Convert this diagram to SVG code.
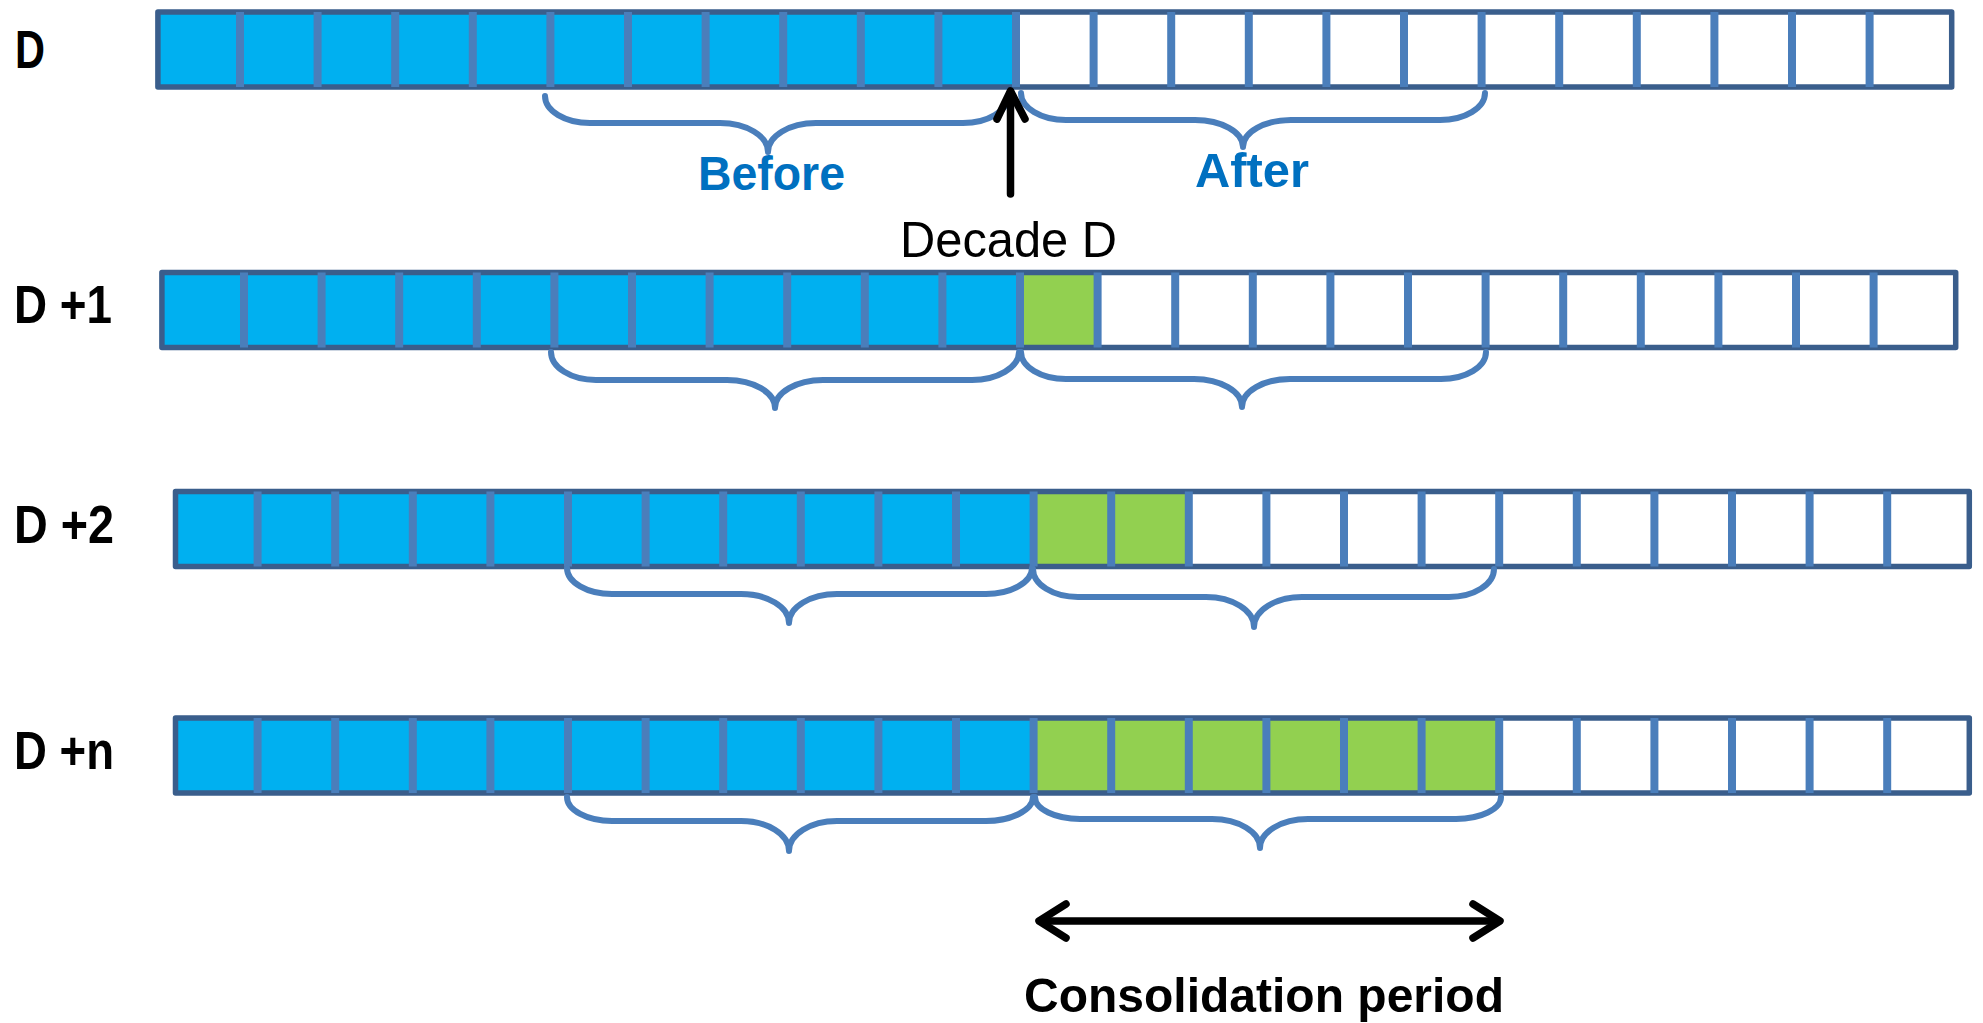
<svg xmlns="http://www.w3.org/2000/svg" xmlns:xlink="http://www.w3.org/1999/xlink" width="1983" height="1023" viewBox="0 0 1983 1023">
  <style>
    .lbl { font-family: "Liberation Sans", Arial, sans-serif; font-weight: bold; font-size: 53px; fill: #000; }
    .ba { font-family: "Liberation Sans", Arial, sans-serif; font-weight: bold; font-size: 49px; fill: #0070c0; }
    .reg { font-family: "Liberation Sans", Arial, sans-serif; font-size: 50px; fill: #000; }
    .cons { font-family: "Liberation Sans", Arial, sans-serif; font-weight: bold; font-size: 49px; fill: #000; }
    .outer { fill: none; stroke: #3a5e8c; stroke-width: 5.5; stroke-linejoin: round; }
    .div { stroke: #4a7ebb; stroke-width: 8; }
    .blue { fill: #00b0f0; }
    .green { fill: #92d050; }
    .brace { fill: none; stroke: #4a7ebb; stroke-width: 6; stroke-linecap: round; stroke-linejoin: round; }
    .arr { fill: none; stroke: #000; stroke-width: 7.5; stroke-linecap: round; stroke-linejoin: round; }
  </style>
  <defs>
    <g id="divs">
      <line class="div" x1="77.6" y1="0" x2="77.6" y2="75"/>
      <line class="div" x1="155.2" y1="0" x2="155.2" y2="75"/>
      <line class="div" x1="232.8" y1="0" x2="232.8" y2="75"/>
      <line class="div" x1="310.4" y1="0" x2="310.4" y2="75"/>
      <line class="div" x1="388" y1="0" x2="388" y2="75"/>
      <line class="div" x1="465.6" y1="0" x2="465.6" y2="75"/>
      <line class="div" x1="543.2" y1="0" x2="543.2" y2="75"/>
      <line class="div" x1="620.8" y1="0" x2="620.8" y2="75"/>
      <line class="div" x1="698.4" y1="0" x2="698.4" y2="75"/>
      <line class="div" x1="776" y1="0" x2="776" y2="75"/>
      <line class="div" x1="853.6" y1="0" x2="853.6" y2="75"/>
      <line class="div" x1="931.2" y1="0" x2="931.2" y2="75"/>
      <line class="div" x1="1008.8" y1="0" x2="1008.8" y2="75"/>
      <line class="div" x1="1086.4" y1="0" x2="1086.4" y2="75"/>
      <line class="div" x1="1164" y1="0" x2="1164" y2="75"/>
      <line class="div" x1="1241.6" y1="0" x2="1241.6" y2="75"/>
      <line class="div" x1="1319.2" y1="0" x2="1319.2" y2="75"/>
      <line class="div" x1="1396.8" y1="0" x2="1396.8" y2="75"/>
      <line class="div" x1="1474.4" y1="0" x2="1474.4" y2="75"/>
      <line class="div" x1="1552" y1="0" x2="1552" y2="75"/>
      <line class="div" x1="1629.6" y1="0" x2="1629.6" y2="75"/>
      <line class="div" x1="1707.2" y1="0" x2="1707.2" y2="75"/>
    </g>
  </defs>

  <rect width="1983" height="1023" fill="#ffffff"/>

  <!-- Row D -->
  <g id="row-D" transform="translate(162.4,12)">
    <rect class="blue" x="-4.5" y="0" width="858.1" height="75"/>
    <rect class="outer" x="-4.5" y="0" width="1793.8" height="75"/>
    <use xlink:href="#divs"/>
  </g>
  <text id="label-D" class="lbl" x="15" y="68" textLength="30" lengthAdjust="spacingAndGlyphs">D</text>

  <!-- Row D+1 -->
  <g id="row-D1" transform="translate(166.4,272.5)">
    <rect class="blue" x="-4.5" y="0" width="858.1" height="75"/>
    <rect class="green" x="853.6" y="0" width="77.6" height="75"/>
    <rect class="outer" x="-4.5" y="0" width="1793.8" height="75"/>
    <use xlink:href="#divs"/>
  </g>
  <text id="label-D1" class="lbl" x="14" y="323" textLength="98" lengthAdjust="spacingAndGlyphs">D +1</text>

  <!-- Row D+2 -->
  <g id="row-D2" transform="translate(180,491.5)">
    <rect class="blue" x="-4.5" y="0" width="858.1" height="75"/>
    <rect class="green" x="853.6" y="0" width="155.2" height="75"/>
    <rect class="outer" x="-4.5" y="0" width="1793.8" height="75"/>
    <use xlink:href="#divs"/>
  </g>
  <text id="label-D2" class="lbl" x="14" y="543" textLength="100" lengthAdjust="spacingAndGlyphs">D +2</text>

  <!-- Row D+n -->
  <g id="row-Dn" transform="translate(180,718)">
    <rect class="blue" x="-4.5" y="0" width="858.1" height="75"/>
    <rect class="green" x="853.6" y="0" width="465.6" height="75"/>
    <rect class="outer" x="-4.5" y="0" width="1793.8" height="75"/>
    <use xlink:href="#divs"/>
  </g>
  <text id="label-Dn" class="lbl" x="14" y="769" textLength="100" lengthAdjust="spacingAndGlyphs">D +n</text>

  <!-- Braces -->
  <g id="braces">
    <path class="brace" d="M545,96 C545,110.9 565.2,123 590,123 L720,123 C746.5,123 768,136 768,152 C768,136 789.5,123 816,123 L963,123 C987.8,123 1008,110.9 1008,96"/>
    <path class="brace" d="M1021,93 C1021,107.9 1041.2,120 1066,120 L1195,120 C1221.5,120 1243,132.1 1243,147 C1243,132.1 1264.5,120 1291,120 L1440,120 C1464.8,120 1485,107.9 1485,93"/>
    <path class="brace" d="M551,352 C551,367.5 571.2,380 596,380 L727,380 C753.5,380 775,392.5 775,408 C775,392.5 796.5,380 823,380 L972,380 C996.8,380 1019,367.5 1019,352"/>
    <path class="brace" d="M1021,352 C1021,366.9 1041.2,379 1066,379 L1194,379 C1220.5,379 1242,391.5 1242,407 C1242,391.5 1263.5,379 1290,379 L1441,379 C1465.8,379 1486,366.9 1486,352"/>
    <path class="brace" d="M567,568 C567,582.4 587.2,594 612,594 L741,594 C767.5,594 789,607 789,623 C789,607 810.5,594 837,594 L986,594 C1010.8,594 1032,582.4 1032,568"/>
    <path class="brace" d="M1033,569 C1033,584.5 1053.2,597 1078,597 L1206,597 C1232.5,597 1254,610.4 1254,627 C1254,610.4 1275.5,597 1302,597 L1449,597 C1473.8,597 1494,584.5 1494,569"/>
    <path class="brace" d="M567,797 C567,810.2 587.2,821 612,821 L741,821 C767.5,821 789,834.4 789,851 C789,834.4 810.5,821 837,821 L986,821 C1010.8,821 1033,810.2 1033,797"/>
    <path class="brace" d="M1035,797 C1035,809.1 1055.2,819 1080,819 L1212,819 C1238.5,819 1260,832 1260,848 C1260,832 1281.5,819 1308,819 L1456,819 C1480.8,819 1501,809.1 1501,797"/>
  </g>

  <!-- Connectors -->
  <g id="connectors">
    <line class="arr" x1="1010.5" y1="194" x2="1010.5" y2="92"/>
    <polyline class="arr" points="997,119 1010.5,91 1025,119"/>
    <line class="arr" x1="1040" y1="921" x2="1499" y2="921"/>
    <polyline class="arr" points="1066,904 1039,921 1066,938"/>
    <polyline class="arr" points="1473,904 1500,921 1473,938"/>
  </g>

  <!-- Labels -->
  <text id="before" class="ba" x="698" y="190" textLength="147" lengthAdjust="spacingAndGlyphs">Before</text>
  <text id="after" class="ba" x="1195" y="187" textLength="114" lengthAdjust="spacingAndGlyphs">After</text>
  <text id="decade" class="reg" x="900" y="257" textLength="217" lengthAdjust="spacingAndGlyphs">Decade D</text>
  <text id="consolidation" class="cons" x="1024" y="1012" textLength="480" lengthAdjust="spacingAndGlyphs">Consolidation period</text>
</svg>
